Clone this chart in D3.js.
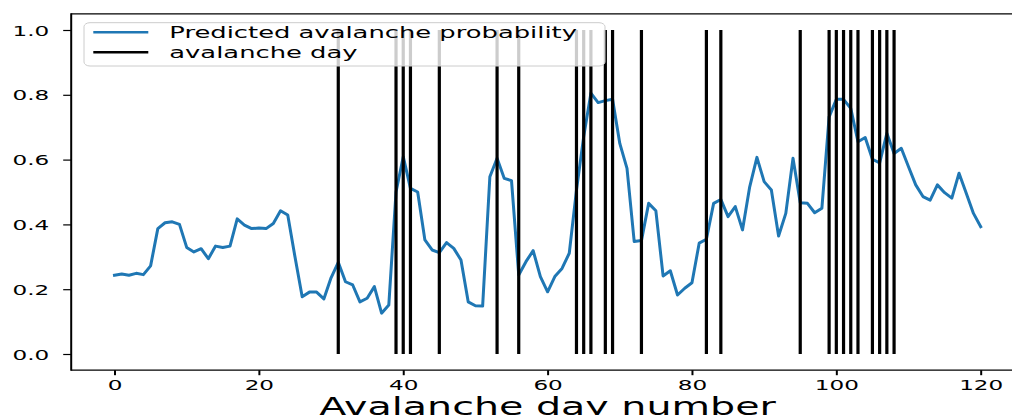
<!DOCTYPE html>
<html>
<head>
<meta charset="utf-8">
<script src="https://cdn.jsdelivr.net/npm/d3@7"></script>
<style>
  html, body { margin: 0; padding: 0; background: #ffffff; }
  svg { display: block; }
  text { font-family: "DejaVu Sans", sans-serif; fill: #000; }
</style>
</head>
<body>
<svg id="chart" width="1012" height="415"></svg>
<script>
// Predicted avalanche probability for each day (index = day number)
const probability = [
  0.243, 0.247, 0.243, 0.249, 0.245, 0.272, 0.387, 0.405, 0.408, 0.400,
  0.329, 0.315, 0.325, 0.294, 0.333, 0.329, 0.333, 0.417, 0.398, 0.387,
  0.389, 0.387, 0.403, 0.442, 0.429, 0.300, 0.177, 0.191, 0.191, 0.170,
  0.235, 0.283, 0.223, 0.213, 0.161, 0.172, 0.208, 0.126, 0.151, 0.500,
  0.609, 0.511, 0.500, 0.352, 0.321, 0.313, 0.344, 0.326, 0.290, 0.161,
  0.149, 0.148, 0.547, 0.604, 0.542, 0.535, 0.244, 0.285, 0.319, 0.239,
  0.192, 0.239, 0.264, 0.311, 0.506, 0.671, 0.805, 0.776, 0.782, 0.786,
  0.650, 0.573, 0.347, 0.350, 0.465, 0.442, 0.241, 0.257, 0.182, 0.203,
  0.220, 0.342, 0.354, 0.465, 0.477, 0.424, 0.455, 0.383, 0.516, 0.607,
  0.532, 0.506, 0.364, 0.434, 0.604, 0.467, 0.465, 0.436, 0.450, 0.732,
  0.786, 0.786, 0.758, 0.655, 0.668, 0.601, 0.590, 0.681, 0.619, 0.635,
  0.578, 0.522, 0.486, 0.475, 0.522, 0.498, 0.481, 0.558, 0.496, 0.434,
  0.393
];

// Days on which an avalanche was observed
const avalancheDays = [31, 39, 40, 41, 45, 53, 56, 64, 65, 66, 68, 69, 73,
  82, 84, 95, 99, 100, 101, 102, 103, 105, 106, 107, 108];

const xTicks = [0, 20, 40, 60, 80, 100, 120];
const yTicks = [0.0, 0.2, 0.4, 0.6, 0.8, 1.0];

const seriesLabels = ["Predicted avalanche probability", "avalanche day"];
const xLabel = "Avalanche day number";

// The figure is stretched horizontally; text is widened by the same factor.
const SX = 1.65;
const BLUE = "#1f77b4";

const svg = d3.select("#chart");
svg.append("rect").attr("width", 1012).attr("height", 415).attr("fill", "#fff");

const x = d3.scaleLinear().domain([-6, 126]).range([71.2, 1024]);
const y = d3.scaleLinear().domain([-0.05, 1.05]).range([370.2, 13.8]);

const [xl, xr] = x.range();
const [yb, yt] = y.range();

svg.append("clipPath").attr("id", "plot-clip")
  .append("rect").attr("x", xl).attr("y", yt).attr("width", xr - xl).attr("height", yb - yt);

const plot = svg.append("g").attr("clip-path", "url(#plot-clip)");

// probability curve
const line = d3.line().x((d, i) => x(i)).y(d => y(d));
plot.append("path")
  .datum(probability)
  .attr("d", line)
  .attr("fill", "none")
  .attr("stroke", BLUE)
  .attr("stroke-width", 3)
  .attr("stroke-linejoin", "round")
  .attr("stroke-linecap", "square");

// avalanche day markers
plot.selectAll("line.day")
  .data(avalancheDays)
  .join("line")
  .attr("class", "day")
  .attr("x1", d => x(d)).attr("x2", d => x(d))
  .attr("y1", y(0)).attr("y2", y(1))
  .attr("stroke", "#000")
  .attr("stroke-width", 3.2);

// spines
svg.append("line").attr("x1", xl).attr("x2", xl).attr("y1", yt - 0.6).attr("y2", yb + 0.6)
  .attr("stroke", "#000").attr("stroke-width", 2);
svg.append("line").attr("x1", xl).attr("x2", xr).attr("y1", yt).attr("y2", yt)
  .attr("stroke", "#000").attr("stroke-width", 1.2);
svg.append("line").attr("x1", xl).attr("x2", xr).attr("y1", yb).attr("y2", yb)
  .attr("stroke", "#000").attr("stroke-width", 1.2);

// y axis
const yAxis = svg.append("g")
  .attr("transform", `translate(${xl},0)`)
  .call(d3.axisLeft(y).tickValues(yTicks).tickFormat(d3.format(".1f")).tickSize(8));
yAxis.select(".domain").remove();
yAxis.selectAll(".tick line").attr("stroke", "#000").attr("stroke-width", 1.2);
yAxis.selectAll(".tick text")
  .attr("x", 0).attr("dy", "0.36em")
  .attr("transform", `translate(-22,0) scale(${SX},1)`)
  .attr("text-anchor", "end")
  .style("font-size", "14px");

// x axis
const xAxis = svg.append("g")
  .attr("transform", `translate(0,${yb})`)
  .call(d3.axisBottom(x).tickValues(xTicks).tickFormat(d3.format("d")).tickSize(5));
xAxis.select(".domain").remove();
xAxis.selectAll(".tick line").attr("stroke", "#000").attr("stroke-width", 2);
xAxis.selectAll(".tick text")
  .attr("y", 0).attr("dy", 0)
  .attr("transform", `translate(0,20) scale(${SX},1)`)
  .attr("text-anchor", "middle")
  .style("font-size", "14px");

// x axis title (runs to the bottom edge of the figure)
svg.append("text")
  .attr("transform", `translate(${(xl + xr) / 2},414.5) scale(${SX},1)`)
  .attr("text-anchor", "middle")
  .style("font-size", "24px")
  .text(xLabel);

// legend
const legend = svg.append("g");
legend.append("rect")
  .attr("x", 84).attr("y", 22.7).attr("width", 521).attr("height", 43.3)
  .attr("rx", 6).attr("ry", 4)
  .attr("fill", "#fff").attr("fill-opacity", 0.8)
  .attr("stroke", "#cccccc").attr("stroke-width", 1);
const legendRows = [
  { label: seriesLabels[0], color: BLUE, cy: 32.3 },
  { label: seriesLabels[1], color: "#000", cy: 52.3 }
];
legendRows.forEach(r => {
  legend.append("line")
    .attr("x1", 93.3).attr("x2", 148.3).attr("y1", r.cy).attr("y2", r.cy)
    .attr("stroke", r.color).attr("stroke-width", 2.4);
  legend.append("text")
    .attr("transform", `translate(169.3,${r.cy + 5.3}) scale(1.72,1)`)
    .style("font-size", "15px")
    .text(r.label);
});
</script>
</body>
</html>
